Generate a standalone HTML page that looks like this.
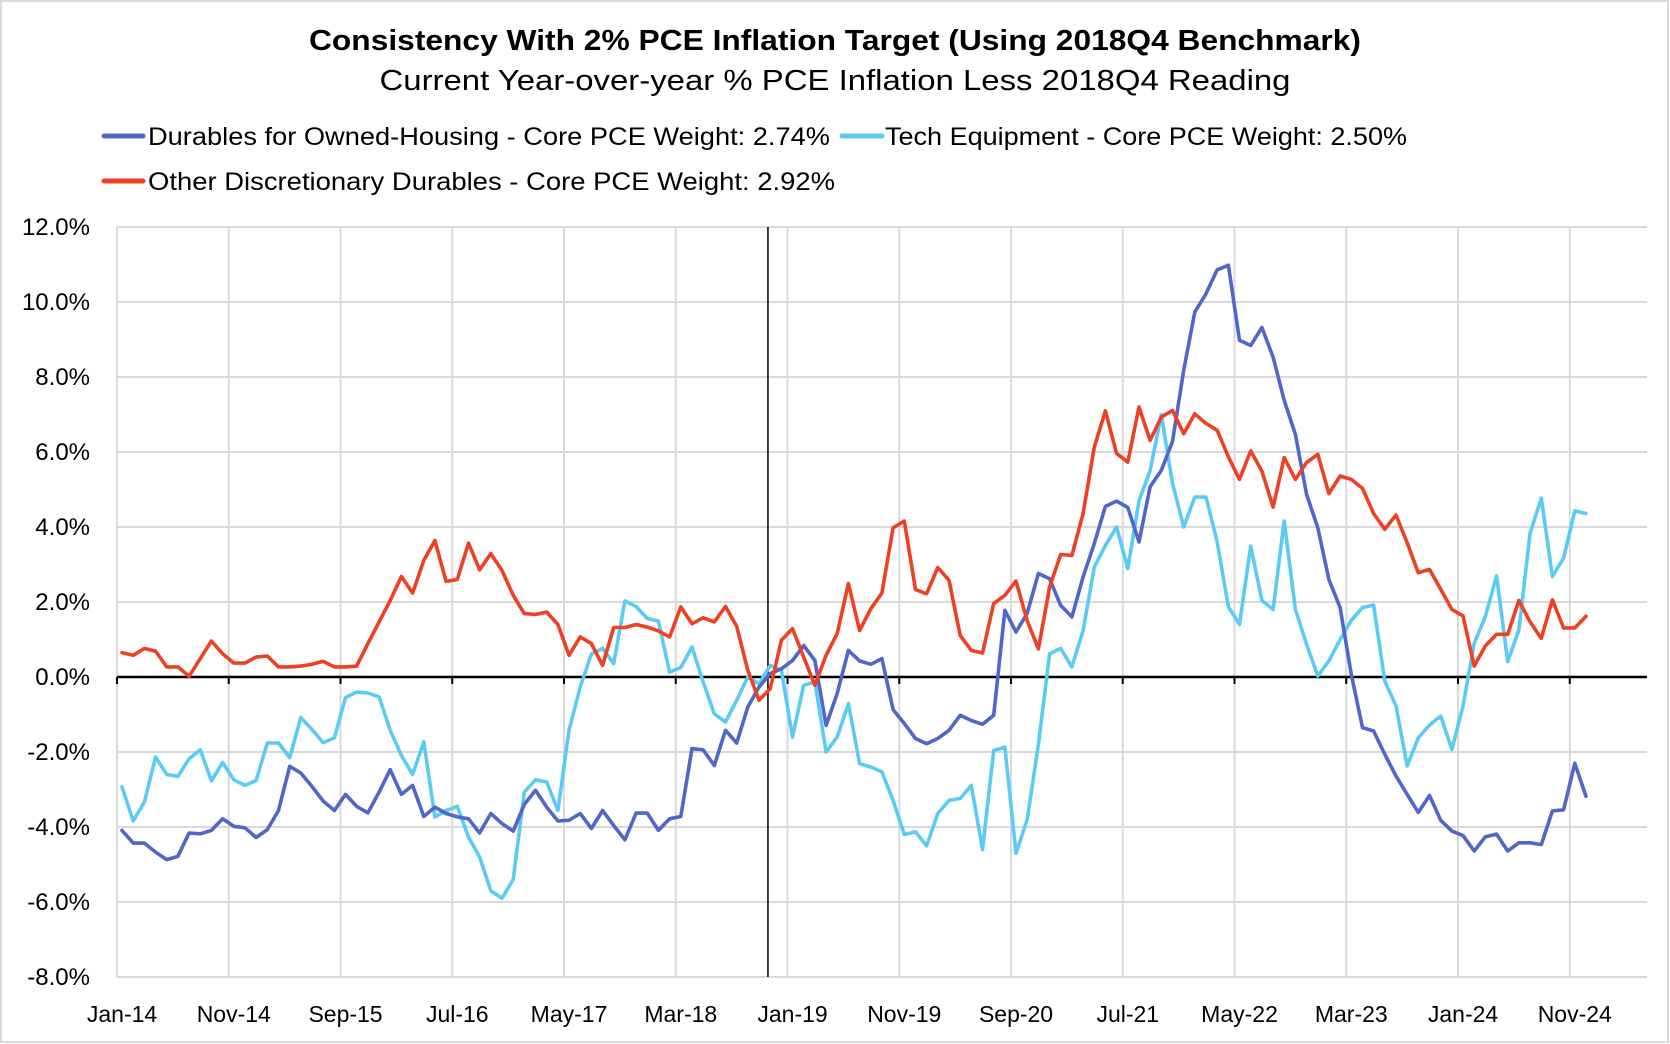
<!DOCTYPE html>
<html><head><meta charset="utf-8"><style>
html,body{margin:0;padding:0;background:#fff;}
svg{display:block;font-family:"Liberation Sans",sans-serif;}
</style></head><body>
<svg id="chart" width="1670" height="1044" viewBox="0 0 1670 1044">
<rect x="1" y="1" width="1667" height="1041" fill="#fff" stroke="#d9d9d9" stroke-width="2"/>
<text x="835" y="50" text-anchor="middle" font-weight="bold" font-size="29" textLength="1052" lengthAdjust="spacingAndGlyphs">Consistency With 2% PCE Inflation Target (Using 2018Q4 Benchmark)</text>
<text x="835" y="90" text-anchor="middle" font-size="29" textLength="911" lengthAdjust="spacingAndGlyphs">Current Year-over-year % PCE Inflation Less 2018Q4 Reading</text>
<g>
<g>
<line x1="104" y1="136" x2="143" y2="136" stroke="#5066c8" stroke-width="5" stroke-linecap="round"/>
<text x="148" y="145" font-size="25" textLength="682" lengthAdjust="spacingAndGlyphs">Durables for Owned-Housing - Core PCE Weight: 2.74%</text>
</g>
<g>
<line x1="842" y1="136" x2="882" y2="136" stroke="#5bcbf5" stroke-width="5" stroke-linecap="round"/>
<text x="885" y="145" font-size="25" textLength="522" lengthAdjust="spacingAndGlyphs">Tech Equipment - Core PCE Weight: 2.50%</text>
</g>
<g>
<line x1="104" y1="181" x2="143" y2="181" stroke="#ee4023" stroke-width="5" stroke-linecap="round"/>
<text x="148" y="190" font-size="25" textLength="687" lengthAdjust="spacingAndGlyphs">Other Discretionary Durables - Core PCE Weight: 2.92%</text>
</g>
</g>
<g id="grid"></g>
<g id="yaxis"></g>
<g id="xaxis"></g>
<g id="series"></g>
</svg>
<script>
const tickLabels = ["Jan-14","Nov-14","Sep-15","Jul-16","May-17","Mar-18","Jan-19","Nov-19","Sep-20","Jul-21","May-22","Mar-23","Jan-24","Nov-24"];
const yTicks = [12,10,8,6,4,2,0,-2,-4,-6,-8];
const ownedHousing = [-4.09,-4.43,-4.43,-4.67,-4.87,-4.78,-4.16,-4.18,-4.09,-3.78,-3.98,-4.02,-4.28,-4.07,-3.56,-2.38,-2.56,-2.92,-3.31,-3.56,-3.13,-3.45,-3.62,-3.07,-2.47,-3.13,-2.89,-3.72,
-3.47,-3.64,-3.73,-3.78,-4.16,-3.64,-3.91,-4.11,-3.40,-3.02,-3.47,-3.84,-3.82,-3.64,-4.04,-3.56,-3.96,-4.34,-3.63,-3.63,-4.09,-3.78,-3.72,-1.91,-1.94,-2.36,-1.42,-1.76,-0.80,
-0.27,0.09,0.22,0.44,0.84,0.44,-1.29,-0.44,0.71,0.43,0.34,0.49,-0.87,-1.24,-1.64,-1.78,-1.64,-1.42,-1.02,-1.16,-1.26,-1.02,1.78,1.20,1.70,2.76,2.62,1.91,
1.60,2.67,3.56,4.55,4.69,4.52,3.60,5.07,5.51,6.28,8.18,9.73,10.22,10.86,10.98,8.98,8.84,9.32,8.53,7.38,6.47,
4.87,3.98,2.60,1.85,0.07,-1.35,-1.44,-2.06,-2.64,-3.13,-3.61,-3.16,-3.82,-4.11,-4.23,-4.64,-4.26,-4.19,-4.64,-4.42,-4.42,-4.47,-3.57,-3.54,-2.30,-3.18];
const techEquipment = [-2.93,-3.84,-3.33,-2.13,-2.60,-2.65,-2.18,-1.94,-2.77,-2.28,-2.74,-2.89,-2.76,-1.76,-1.76,-2.15,-1.08,-1.40,-1.75,-1.62,-0.55,-0.40,-0.43,-0.53,-1.42,-2.09,-2.60,-1.73,
-3.73,-3.56,-3.45,-4.27,-4.8,-5.7,-5.9,-5.4,-3.07,-2.74,-2.8,-3.56,-1.42,-0.27,0.62,0.76,0.36,2.03,1.88,1.56,1.49,0.13,0.25,0.80,-0.13,-0.98,-1.2,-0.62,0.0,
-0.18,0.31,0.18,-1.6,-0.22,-0.13,-2.0,-1.6,-0.71,-2.31,-2.4,-2.53,-3.29,-4.2,-4.13,-4.5,-3.64,-3.29,-3.24,-2.89,-4.6,-1.96,-1.87,-4.7,-3.8,-1.8,0.62,0.76,
0.27,1.24,2.93,3.51,4.0,2.89,4.7,5.5,7.0,5.16,4.0,4.8,4.8,3.6,1.87,1.40,3.49,2.04,1.80,4.16,1.80,
0.87,0.03,0.43,1.0,1.51,1.85,1.92,-0.11,-0.77,-2.37,-1.62,-1.28,-1.04,-1.93,-0.77,0.9,1.62,2.70,0.41,1.26,3.84,4.77,2.68,3.17,4.43,4.36];
const otherDiscretionary = [0.65,0.58,0.76,0.69,0.27,0.27,0.02,0.49,0.96,0.62,0.37,0.37,0.53,0.56,0.27,0.27,0.29,0.34,0.42,0.27,0.27,0.29,0.89,1.47,2.04,2.68,2.24,3.11,
3.64,2.55,2.60,3.57,2.86,3.29,2.84,2.18,1.69,1.67,1.73,1.40,0.58,1.07,0.89,0.31,1.32,1.32,1.40,1.33,1.23,1.07,1.87,1.42,1.58,1.47,1.88,1.35,0.18,
-0.62,-0.31,0.98,1.29,0.53,-0.22,0.58,1.16,2.49,1.24,1.82,2.24,3.98,4.16,2.33,2.22,2.92,2.58,1.11,0.71,0.64,1.96,2.18,2.56,1.5,0.75,2.4,3.27,
3.24,4.36,6.13,7.1,5.96,5.73,7.2,6.31,6.93,7.11,6.49,7.02,6.76,6.58,5.87,5.27,6.03,5.49,4.53,5.85,5.27,
5.72,5.94,4.89,5.36,5.27,5.03,4.36,3.94,4.32,3.58,2.78,2.87,2.34,1.80,1.63,0.29,0.83,1.14,1.14,2.04,1.47,1.03,2.06,1.31,1.31,1.62];
const benchmarkIndex = 57.8;

const NS = "http://www.w3.org/2000/svg";
const L = 117, R = 1647, T = 227, B = 977, YMIN = -8, YMAX = 12;
const STEP = 11.175;
function xPos(i){ return L + STEP * (i + 0.45); }
function yPos(v){ return B - (v - YMIN) / (YMAX - YMIN) * (B - T); }
function mk(tag, attrs, parent){ const e = document.createElementNS(NS, tag); for (const k in attrs) e.setAttribute(k, attrs[k]); parent.appendChild(e); return e; }

const grid = document.getElementById('grid');
const yaxis = document.getElementById('yaxis');
const xaxis = document.getElementById('xaxis');
const series = document.getElementById('series');

yTicks.forEach(v => {
  const g = mk('line', {x1: L, x2: R, y1: yPos(v), y2: yPos(v), stroke: '#d9d9d9', 'stroke-width': 2}, grid);
  
  
  const t = mk('text', {x: 90, y: yPos(v) + 8, 'text-anchor': 'end', 'font-size': 24}, yaxis);
  t.textContent = v.toFixed(1) + '%';
  
  
});
tickLabels.forEach((lab, k) => {
  const gx = L + STEP * 10 * k;
  const g = mk('line', {x1: gx, x2: gx, y1: T, y2: B, stroke: '#d9d9d9', 'stroke-width': 2}, grid);
  
  
  const tk = mk('line', {x1: gx, x2: gx, y1: yPos(0), y2: yPos(0) + 7, stroke: '#000', 'stroke-width': 2}, xaxis);
  
  
  const t = mk('text', {x: xPos(10 * k), y: 1022, 'text-anchor': 'middle', 'font-size': 23}, xaxis);
  t.textContent = lab;
  
  
});
const zl = mk('line', {x1: L, x2: R, y1: yPos(0), y2: yPos(0), stroke: '#000', 'stroke-width': 2.5}, xaxis);


const bx = xPos(benchmarkIndex);
const bl = mk('line', {x1: bx, x2: bx, y1: T, y2: B, stroke: '#000', 'stroke-width': 1.5}, xaxis);



function drawSeries(arr, color, name){
  const d = arr.map((v, i) => (i ? 'L' : 'M') + xPos(i).toFixed(1) + ',' + yPos(v).toFixed(1)).join(' ');
  const p = mk('path', {d: d, fill: 'none', stroke: color, 'stroke-width': 3.6, 'stroke-linejoin': 'round', 'stroke-linecap': 'round'}, series);
  
  
}
drawSeries(techEquipment, '#5bcbf5', 'tech-equipment-line');
drawSeries(ownedHousing, '#5066c8', 'owned-housing-line');
drawSeries(otherDiscretionary, '#ee4023', 'other-discretionary-line');
</script>
</body></html>
